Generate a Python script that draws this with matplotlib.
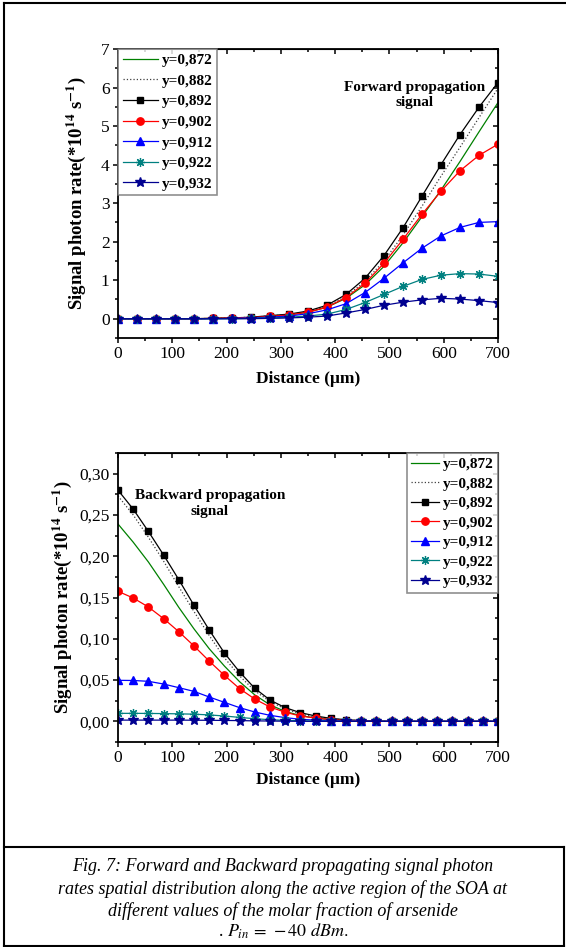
import numpy as np
import matplotlib
matplotlib.use('Agg')
import matplotlib.pyplot as plt
from matplotlib.ticker import MultipleLocator, FuncFormatter
from matplotlib.lines import Line2D

plt.rcParams['font.family'] = ['Liberation Serif', 'DejaVu Serif']
plt.rcParams['mathtext.fontset'] = 'stix'

labels = ['y=0,872', 'y=0,882', 'y=0,892', 'y=0,902', 'y=0,912', 'y=0,922', 'y=0,932']

# forward signal, sampled every 35 um
x_fwd = [0, 35, 70, 105, 140, 175, 210, 245, 280, 315, 350, 385, 420, 455, 490, 525, 560, 595, 630, 665, 700]
fwd_872 = [0, 0, 0, 0, 0, 0.01, 0.02, 0.03, 0.06, 0.10, 0.17, 0.30, 0.53, 0.88, 1.36, 1.97, 2.65, 3.34, 4.08, 4.85, 5.61]
fwd_882 = [0, 0, 0, 0, 0, 0.01, 0.02, 0.04, 0.07, 0.11, 0.18, 0.32, 0.58, 0.97, 1.50, 2.17, 2.92, 3.70, 4.45, 5.22, 5.98]
fwd_892 = [0, 0, 0, 0, 0, 0.01, 0.02, 0.04, 0.08, 0.12, 0.20, 0.35, 0.63, 1.05, 1.64, 2.36, 3.18, 4.00, 4.78, 5.49, 6.13]
fwd_902 = [0, 0, 0, 0, 0, 0.01, 0.02, 0.03, 0.06, 0.10, 0.17, 0.30, 0.55, 0.92, 1.44, 2.06, 2.71, 3.31, 3.84, 4.24, 4.53]
fwd_912 = [0, 0, 0, 0, 0, 0, 0.01, 0.02, 0.04, 0.07, 0.13, 0.23, 0.39, 0.68, 1.05, 1.45, 1.83, 2.15, 2.37, 2.50, 2.52]
fwd_922 = [0, 0, 0, 0, 0, 0, 0, 0.01, 0.02, 0.04, 0.07, 0.12, 0.24, 0.42, 0.63, 0.84, 1.02, 1.13, 1.17, 1.16, 1.10]
fwd_932 = [0, 0, 0, 0, 0, 0, 0, 0, 0.01, 0.02, 0.04, 0.07, 0.15, 0.24, 0.35, 0.43, 0.49, 0.53, 0.51, 0.47, 0.42]

# backward signal, sampled every 28 um
x_bwd = [0, 28, 56, 84, 112, 140, 168, 196, 224, 252, 280, 308, 336, 364, 392, 420, 448, 476, 504, 532, 560, 588, 616, 644, 672, 700]
bwd_872 = [0.239, 0.217, 0.193, 0.166, 0.138, 0.112, 0.088, 0.067, 0.048, 0.032, 0.020, 0.012, 0.007, 0.004, 0.002, 0.001, 0.0005, 0, 0, 0, 0, 0, 0, 0, 0, 0]
bwd_882 = [0.273, 0.250, 0.223, 0.194, 0.163, 0.133, 0.104, 0.077, 0.055, 0.037, 0.024, 0.015, 0.009, 0.005, 0.003, 0.0015, 0.0008, 0, 0, 0, 0, 0, 0, 0, 0, 0]
bwd_892 = [0.280, 0.257, 0.230, 0.2015, 0.1716, 0.1405, 0.1107, 0.0828, 0.0598, 0.040, 0.0258, 0.0166, 0.0105, 0.0065, 0.0036, 0.002, 0.001, 0.0005, 0, 0, 0, 0, 0, 0, 0, 0]
bwd_902 = [0.1575, 0.1494, 0.1385, 0.1244, 0.1086, 0.0913, 0.073, 0.0557, 0.0396, 0.027, 0.0174, 0.011, 0.0065, 0.004, 0.002, 0.001, 0.0005, 0, 0, 0, 0, 0, 0, 0, 0, 0]
bwd_912 = [0.0497, 0.0495, 0.0485, 0.0452, 0.0408, 0.0363, 0.0295, 0.023, 0.0166, 0.0113, 0.0073, 0.0045, 0.0025, 0.0015, 0.0008, 0.0004, 0.0002, 0, 0, 0, 0, 0, 0, 0, 0, 0]
bwd_922 = [0.0097, 0.0097, 0.0096, 0.0094, 0.0091, 0.0087, 0.0078, 0.0065, 0.0048, 0.0032, 0.002, 0.0012, 0.0007, 0.0004, 0.0002, 0.0001, 0, 0, 0, 0, 0, 0, 0, 0, 0, 0]
bwd_932 = [0.0015, 0.0015, 0.0015, 0.0015, 0.0015, 0.0014, 0.0013, 0.0011, 0.0009, 0.0006, 0.0004, 0.0002, 0.0001, 0, 0, 0, 0, 0, 0, 0, 0, 0, 0, 0, 0, 0]

styles = [
  dict(color='#008000', ls='-', marker=None),
  dict(color='0.25', ls=':', marker=None),
  dict(color='black', ls='-', marker='s', ms=4.8),
  dict(color='#ff0000', ls='-', marker='o', ms=5.3),
  dict(color='#0000ff', ls='-', marker='^', ms=5.3),
  dict(color='#008080', ls='-', marker=(8, 2, 0), ms=6.5, mew=0.9),
  dict(color='#000090', ls='-', marker='*', ms=7),
]

W, H = 566, 947
fig = plt.figure(figsize=(W/100, H/100), dpi=100)

def box(l, t, r, b):
  return [l/W, 1-b/H, (r-l)/W, (b-t)/H]

def comma(v, pos, nd):
  return ('%.*f' % (nd, v)).replace('.', ',')

ylab = r'Signal photon rate(*10$^{\mathbf{14}}$ s$^{\mathbf{-1}}$)'

def setup(ax, ymaj, ymin, nd):
  ax.set_xlim(0, 700)
  ax.xaxis.set_major_locator(MultipleLocator(100))
  ax.xaxis.set_minor_locator(MultipleLocator(50))
  ax.yaxis.set_major_locator(MultipleLocator(ymaj))
  ax.yaxis.set_minor_locator(MultipleLocator(ymin))
  ax.yaxis.set_major_formatter(FuncFormatter(lambda v, p: comma(v, p, nd)))
  ax.tick_params(which='both', direction='out', top=False, right=False, width=1.1, labelsize=12.5, pad=2.5)
  ax.tick_params(which='major', length=3.5)
  ax.tick_params(which='minor', length=2.5)
  for s in ax.spines.values():
    s.set_linewidth(1.3)
  # mirrored ticks pointing inward on top and right
  top = ax.secondary_xaxis('top')
  top.xaxis.set_major_locator(MultipleLocator(100))
  top.xaxis.set_minor_locator(MultipleLocator(50))
  top.tick_params(which='both', direction='in', labeltop=False, width=1.1)
  top.tick_params(which='major', length=3.5)
  top.tick_params(which='minor', length=2.5)
  rgt = ax.secondary_yaxis('right')
  rgt.yaxis.set_major_locator(MultipleLocator(ymaj))
  rgt.yaxis.set_minor_locator(MultipleLocator(ymin))
  rgt.tick_params(which='both', direction='in', labelright=False, width=1.1)
  rgt.tick_params(which='major', length=3.5)
  rgt.tick_params(which='minor', length=2.5)
  ax.set_xlabel('Distance (μm)', fontsize=12.5, fontweight='bold')
  ax.set_ylabel(ylab, fontsize=13.5, fontweight='bold')

def legend(ax, loc, hl, sp):
  lg = ax.legend(loc=loc, borderaxespad=0, handlelength=hl, handletextpad=0.25,
                 labelspacing=sp, borderpad=0.3, fancybox=False, numpoints=1,
                 prop={'weight': 'bold', 'size': 11})
  lg.get_frame().set_edgecolor('0.45')
  lg.get_frame().set_linewidth(1.2)

# forward
ax1 = fig.add_axes(box(118, 49, 498, 338))
for ys, st, lb in zip([fwd_872, fwd_882, fwd_892, fwd_902, fwd_912, fwd_922, fwd_932], styles, labels):
  ax1.plot(x_fwd, ys, lw=0.9, label=lb, **st)
ax1.set_ylim(-0.5, 7)
setup(ax1, 1, 0.5, 0)
ax1.xaxis.set_label_coords(0.5, -0.115)
ax1.yaxis.set_label_coords(-0.08, 0.5)
ax1.text(0.78, 0.84, 'Forward propagation\nsignal', transform=ax1.transAxes, ha='center', va='center',
         fontsize=11, fontweight='bold', linespacing=1.25)
legend(ax1, 'upper left', 2.3, 0.45)

# backward
ax2 = fig.add_axes(box(118, 453, 498, 742))
for ys, st, lb in zip([bwd_872, bwd_882, bwd_892, bwd_902, bwd_912, bwd_922, bwd_932], styles, labels):
  ax2.plot(x_bwd, ys, lw=0.9, label=lb, **st)
ax2.set_ylim(-0.025, 0.325)
setup(ax2, 0.05, 0.025, 2)
ax2.xaxis.set_label_coords(0.5, -0.105)
ax2.yaxis.set_label_coords(-0.115, 0.5)
ax2.text(0.242, 0.825, 'Backward propagation\nsignal', transform=ax2.transAxes, ha='center', va='center',
         fontsize=11, fontweight='bold', linespacing=1.25)
legend(ax2, 'upper right', 1.8, 0.38)

# page frame and caption box
def hline(y, x0, x1):
  fig.add_artist(Line2D([x0/W, x1/W], [1-y/H, 1-y/H], color='black', lw=1.5))

def vline(x, y0, y1):
  fig.add_artist(Line2D([x/W, x/W], [1-y0/H, 1-y1/H], color='black', lw=1.5))

hline(3.5, 3.5, 566)
vline(3.5, 3.5, 945.5)
hline(847, 3.5, 563.5)
hline(945.5, 3.5, 563.5)
vline(563.5, 847, 945.5)

caption = ['Fig. 7: Forward and Backward propagating signal photon',
           'rates spatial distribution along the active region of the SOA at',
           'different values of the molar fraction of arsenide']
for i, line in enumerate(caption):
  fig.text(283/W, 1-(866.5+i*22.3)/H, line, ha='center', va='center', fontsize=13, style='italic')
fig.text(283/W, 1-931.5/H, r'. $P_{in}\,=\,-40\ dBm.$', ha='center', va='center', fontsize=13)

fig.savefig('out.png', dpi=100)
